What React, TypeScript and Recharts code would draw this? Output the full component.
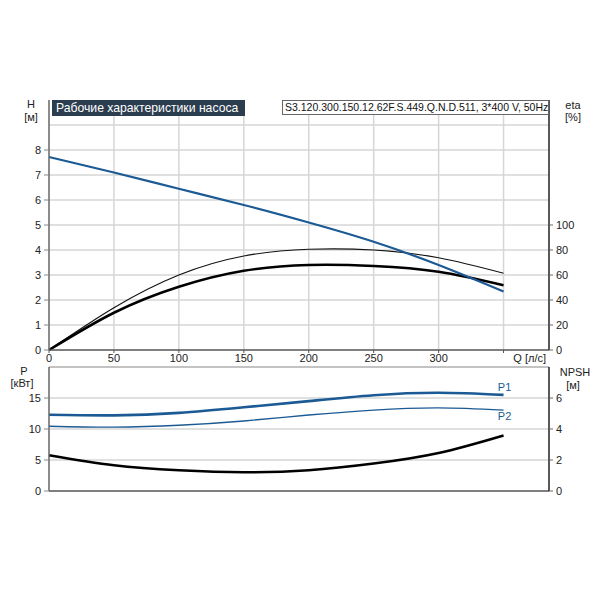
import React from 'react'
import {
  LineChart,
  Line,
  XAxis,
  YAxis,
  CartesianGrid,
  ReferenceLine,
} from 'recharts'

// flow, l/s
const qValues = [0, 50, 100, 150, 200, 250, 300, 350]
// head, m
const headValues = [7.72, 7.1, 6.45, 5.8, 5.1, 4.33, 3.4, 2.34]
// efficiencies, %
const etaUpperValues = [0, 33.8, 60, 75.2, 80.6, 80, 73.8, 61.4]
const etaLowerValues = [0, 29.8, 50.6, 63.4, 68, 67.2, 62.6, 51.8]
// power, kW
const p1Values = [12.3, 12.2, 12.6, 13.5, 14.5, 15.45, 15.85, 15.5]
const p2Values = [10.45, 10.3, 10.6, 11.3, 12.25, 13.05, 13.4, 13.05]
// NPSH, m
const npshValues = [2.31, 1.66, 1.34, 1.21, 1.34, 1.77, 2.45, 3.58]

const qTicks = [0, 50, 100, 150, 200, 250, 300, 350]
const qGrid = [50, 100, 150, 200, 250, 300, 350]
const headTicks = [0, 1, 2, 3, 4, 5, 6, 7, 8]
const headGrid = [1, 2, 3, 4, 5, 6, 7, 8, 9]
const etaTicks = [0, 20, 40, 60, 80, 100]
const powerTicks = [0, 5, 10, 15]
const npshTicks = [0, 2, 4, 6]

const topData = qValues.map((q, i) => ({
  q,
  head: headValues[i],
  etaUpper: etaUpperValues[i],
  etaLower: etaLowerValues[i],
}))

const bottomData = qValues.map((q, i) => ({
  q,
  p1: p1Values[i],
  p2: p2Values[i],
  npsh: npshValues[i],
}))

const FONT = '"Liberation Sans", Arial, sans-serif'
const BLUE = '#1b5a94'
const GRID = '#d6d6d6'
const tickStyle = { fontSize: 11, fill: '#222', fontFamily: FONT }

const lastIndex = qValues.length - 1

function endLabel(text: string, offset: number) {
  return (props: any) => {
    if (props.index !== lastIndex) return <g />
    return (
      <text
        x={props.x + 1}
        y={props.y + offset}
        textAnchor="middle"
        dominantBaseline="middle"
        fontSize={11}
        fontFamily={FONT}
        fill={BLUE}
      >
        {text}
      </text>
    )
  }
}

const label = (left: number, top: number, text: string, width = 40) => (
  <div
    style={{
      position: 'absolute',
      left: left - width / 2,
      top: top - 7,
      width,
      height: 14,
      lineHeight: '14px',
      textAlign: 'center',
      fontSize: 11,
      color: '#222',
      fontFamily: FONT,
      whiteSpace: 'nowrap',
    }}
  >
    {text}
  </div>
)

export default function App() {
  return (
    <div
      style={{
        position: 'absolute',
        left: 0,
        top: 0,
        width: 600,
        height: 600,
        background: '#fff',
        fontFamily: FONT,
      }}
    >
      <div style={{ position: 'absolute', left: 0, top: 0 }}>
        <LineChart
          width={600}
          height={370}
          data={topData}
          margin={{ top: 100, right: 0, bottom: 0, left: 0 }}
        >
          <CartesianGrid
            yAxisId="h"
            stroke={GRID}
            strokeWidth={1.5}
            horizontalValues={headGrid}
            verticalValues={qGrid}
          />
          <XAxis
            dataKey="q"
            type="number"
            domain={[0, 385]}
            ticks={qTicks}
            tickFormatter={(v) => (v === 350 ? '' : String(v))}
            height={20}
            tick={tickStyle}
            tickSize={3}
            tickMargin={1}
            axisLine={{ stroke: '#555', strokeWidth: 1.5 }}
            tickLine={{ stroke: '#555' }}
          />
          <YAxis
            yAxisId="h"
            domain={[0, 10]}
            ticks={headTicks}
            width={49}
            tick={tickStyle}
            tickSize={5}
            tickMargin={3}
            axisLine={{ stroke: '#666', strokeWidth: 1.5 }}
            tickLine={{ stroke: '#888' }}
          />
          <YAxis
            yAxisId="eta"
            orientation="right"
            domain={[0, 200]}
            ticks={etaTicks}
            width={51}
            tick={{ ...tickStyle, textAnchor: 'start' }}
            tickSize={4}
            tickMargin={3}
            axisLine={{ stroke: '#222', strokeWidth: 1.5 }}
            tickLine={{ stroke: '#666' }}
          />
          <Line
            yAxisId="eta"
            dataKey="etaUpper"
            type="natural"
            stroke="#111"
            strokeWidth={1.2}
            dot={false}
            isAnimationActive={false}
          />
          <Line
            yAxisId="eta"
            dataKey="etaLower"
            type="natural"
            stroke="#000"
            strokeWidth={2.6}
            dot={false}
            isAnimationActive={false}
          />
          <Line
            yAxisId="h"
            dataKey="head"
            type="natural"
            stroke={BLUE}
            strokeWidth={2.2}
            dot={false}
            isAnimationActive={false}
          />
        </LineChart>
      </div>

      <div style={{ position: 'absolute', left: 0, top: 355 }}>
        <LineChart
          width={600}
          height={150}
          data={bottomData}
          margin={{ top: 12, right: 0, bottom: 13, left: 0 }}
        >
          <CartesianGrid
            yAxisId="p"
            stroke={GRID}
            strokeWidth={1.5}
            horizontalValues={[5, 10, 15]}
            verticalValues={qGrid}
          />
          <ReferenceLine yAxisId="p" y={20} stroke="#888" strokeWidth={1.2} />
          <XAxis
            dataKey="q"
            type="number"
            domain={[0, 385]}
            ticks={qTicks}
            height={1}
            tick={false}
            tickLine={false}
            axisLine={{ stroke: '#555', strokeWidth: 1.5 }}
          />
          <YAxis
            yAxisId="p"
            domain={[0, 20]}
            ticks={powerTicks}
            width={49}
            tick={tickStyle}
            tickSize={5}
            tickMargin={3}
            axisLine={{ stroke: '#666', strokeWidth: 1.5 }}
            tickLine={{ stroke: '#888' }}
          />
          <YAxis
            yAxisId="npsh"
            orientation="right"
            domain={[0, 8]}
            ticks={npshTicks}
            width={51}
            tick={{ ...tickStyle, textAnchor: 'start' }}
            tickSize={4}
            tickMargin={3}
            axisLine={{ stroke: '#222', strokeWidth: 1.5 }}
            tickLine={{ stroke: '#666' }}
          />
          <Line
            yAxisId="p"
            dataKey="p1"
            type="natural"
            stroke={BLUE}
            strokeWidth={2.6}
            dot={false}
            label={endLabel('P1', -7)}
            isAnimationActive={false}
          />
          <Line
            yAxisId="p"
            dataKey="p2"
            type="natural"
            stroke={BLUE}
            strokeWidth={1.4}
            dot={false}
            label={endLabel('P2', 7)}
            isAnimationActive={false}
          />
          <Line
            yAxisId="npsh"
            dataKey="npsh"
            type="natural"
            stroke="#000"
            strokeWidth={2.6}
            dot={false}
            isAnimationActive={false}
          />
        </LineChart>
      </div>

      {/* header boxes */}
      <div
        style={{
          position: 'absolute',
          left: 52,
          top: 100,
          width: 193,
          height: 16,
          lineHeight: '16px',
          background: '#2c3d4f',
          color: '#fff',
          fontSize: 12.2,
          paddingLeft: 4,
          boxSizing: 'border-box',
          whiteSpace: 'nowrap',
          overflow: 'hidden',
        }}
      >
        Рабочие характеристики насоса
      </div>
      <div
        style={{
          position: 'absolute',
          left: 282,
          top: 100,
          width: 267,
          height: 15,
          lineHeight: '13px',
          background: '#fff',
          border: '1px solid #666',
          boxSizing: 'border-box',
          color: '#111',
          fontSize: 10.5,
          paddingLeft: 2,
          whiteSpace: 'nowrap',
        }}
      >
        S3.120.300.150.12.62F.S.449.Q.N.D.511, 3*400 V, 50Hz
      </div>

      {label(31, 104, 'H')}
      {label(31, 117, '[м]')}
      {label(573, 105, 'eta')}
      {label(573, 117, '[%]')}
      {label(24, 371, 'P')}
      {label(22, 383, '[кВт]')}
      {label(575, 372, 'NPSH')}
      {label(573, 385, '[м]')}
      <div
        style={{
          position: 'absolute',
          left: 500,
          top: 351,
          width: 46,
          height: 14,
          lineHeight: '14px',
          textAlign: 'right',
          fontSize: 11,
          color: '#222',
        }}
      >
        Q [л/с]
      </div>
    </div>
  )
}
